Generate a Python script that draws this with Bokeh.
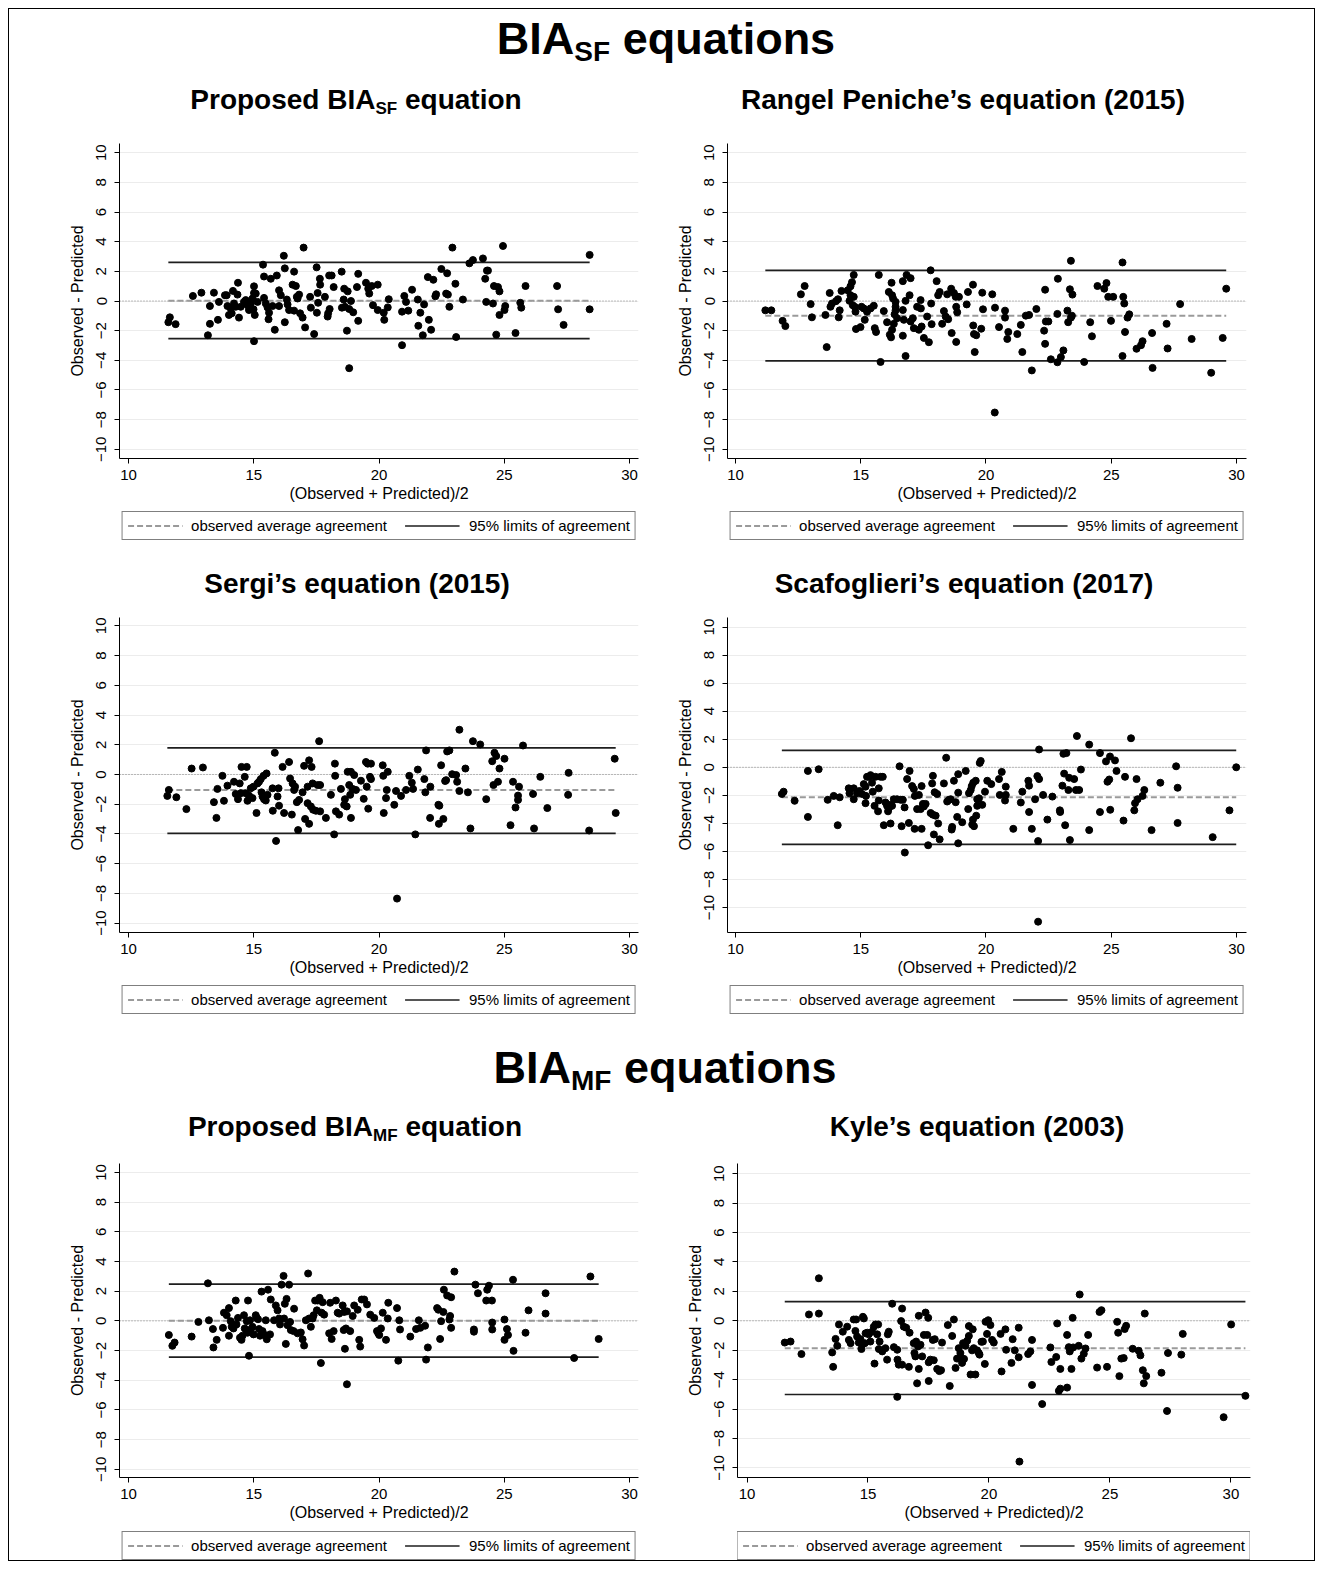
from bokeh.plotting import figure
from bokeh.models import Range1d, Span, Legend, LegendItem, Div, FixedTicker
from bokeh.layouts import column, row
from bokeh.core.properties import value
from bokeh.embed import file_html
from bokeh.resources import INLINE

FONT = "Liberation Sans"
FONT_CSS = "'Liberation Sans', Arial, Helvetica, sans-serif"

# ---------------- data ----------------
x_ticks = [10, 15, 20, 25, 30]
y_ticks = [-10, -8, -6, -4, -2, 0, 2, 4, 6, 8, 10]

# Proposed BIA_SF equation
p1_mean = [11.65,11.59,11.88,12.57,12.91,13.41,13.25,13.25,13.17,13.57,
           13.61,13.85,13.92,14.17,14.35,14.37,13.95,14.08,14.01,14.12,
           14.21,14.28,14.41,14.48,14.61,14.68,14.75,14.81,14.88,14.95,
           15.01,15.01,15.08,15.04,14.99,15.15,15.01,15.37,15.41,15.41,
           15.48,15.55,15.61,15.59,15.75,15.68,15.92,15.84,16.01,16.08,
           16.01,16.20,16.24,16.24,16.32,16.35,16.41,16.55,16.68,16.61,
           16.61,16.72,16.75,16.81,16.85,16.95,16.99,17.05,17.25,17.28,
           17.41,17.51,17.55,17.57,17.52,17.64,17.65,17.84,17.95,17.97,
           18.03,18.01,18.11,18.19,18.51,18.59,18.61,18.52,18.64,18.75,
           18.72,18.81,18.88,18.81,18.97,19.12,19.17,19.17,19.48,19.57,
           19.61,19.71,19.76,19.95,19.95,20.19,20.21,20.35,20.39,20.92,
           20.92,21.01,21.08,21.17,21.32,21.55,21.57,21.65,21.75,21.80,
           21.95,21.99,22.08,22.17,22.25,22.28,22.49,22.68,22.72,22.75,
           22.81,22.93,23.05,23.08,23.35,23.61,23.75,24.15,24.24,24.31,
           24.35,24.28,24.55,24.59,24.75,24.81,24.68,24.81,24.95,25.04,
           25.01,25.45,25.64,25.68,25.85,27.11,27.15,27.37,28.41,28.41]
p1_diff = [-1.10,-1.43,-1.56,0.34,0.56,0.56,-0.34,-1.54,-2.31,-1.27,
           -0.06,0.39,0.39,0.68,0.43,1.23,-0.34,-0.50,-0.94,-0.83,
           -0.17,-0.39,-1.12,-0.39,-0.06,0.06,-0.28,-0.61,-0.17,0.17,
           0.99,0.54,0.50,-0.94,-0.56,-0.06,-2.71,2.45,1.65,0.21,
           -0.17,-0.43,-0.79,-1.23,-0.34,1.50,1.72,-1.94,0.72,0.39,
           -0.34,3.05,2.20,-1.43,0.10,-0.23,-0.61,1.10,1.01,1.98,
           -0.65,0.28,0.17,0.43,-0.83,-1.12,3.60,-1.78,0.28,-0.45,
           -2.23,2.27,0.54,-0.12,-0.79,1.50,1.10,0.28,-1.05,-0.83,
           -0.54,1.72,1.72,0.94,1.98,0.10,0.83,-0.45,-0.39,0.65,
           -2.00,-0.54,0.00,-4.53,-0.76,0.94,-1.34,1.83,1.23,0.83,
           0.50,1.01,-0.28,-0.61,1.10,-0.79,-1.27,-0.43,0.12,-0.72,
           -2.98,0.34,-0.06,-0.65,0.76,0.10,-1.67,-0.79,-2.31,-0.23,
           1.61,-1.27,-1.94,1.43,0.32,0.45,2.16,0.50,1.87,0.43,
           -0.39,3.60,1.16,-2.43,0.10,2.54,2.76,2.87,1.50,2.05,
           2.05,-0.06,-0.17,1.01,0.94,0.65,-2.27,-0.94,3.71,-0.34,
           -0.61,-2.16,-0.12,-0.45,1.01,1.01,-0.56,-1.61,3.11,-0.56]
p1_bias, p1_lo, p1_hi = 0.01, -2.54, 2.60

# Rangel Peniche's equation (2015)
p2_mean = [11.19,11.43,11.88,11.99,12.61,12.76,13.00,13.05,13.59,13.64,
           13.76,13.79,13.85,14.01,14.09,14.16,14.12,14.23,14.48,14.55,
           14.59,14.65,14.72,14.59,14.68,14.72,14.76,14.79,14.81,14.99,
           15.03,15.12,15.16,15.25,15.39,15.52,15.56,15.61,15.72,15.79,
           15.92,16.05,16.12,16.16,16.23,16.21,16.25,16.25,16.29,16.32,
           16.35,16.39,16.39,16.39,16.45,16.68,16.68,16.68,16.72,16.79,
           16.83,16.79,16.95,16.99,16.99,17.08,17.12,17.25,17.32,17.39,
           17.40,17.43,17.52,17.65,17.72,17.79,17.81,17.83,18.03,18.09,
           18.15,18.25,18.32,18.39,18.49,18.45,18.61,18.63,18.72,18.79,
           18.81,18.85,18.81,18.92,19.23,19.28,19.48,19.49,19.52,19.55,
           19.61,19.81,19.85,19.88,20.25,20.36,20.52,20.76,20.76,20.85,
           20.89,21.25,21.39,21.45,21.59,21.72,21.83,22.01,22.36,22.32,
           22.39,22.36,22.49,22.59,22.87,22.85,22.85,22.99,23.09,23.25,
           23.28,23.35,23.39,23.45,23.39,23.43,23.92,24.16,24.23,24.45,
           24.72,24.81,24.88,24.99,25.08,25.45,25.48,25.52,25.55,25.45,
           25.65,25.72,26.01,26.19,26.25,26.63,26.65,27.21,27.25,27.75,
           28.21,28.99,29.45,29.59,20.35]
p2_diff = [-0.63,-0.63,-1.34,-1.69,0.45,1.01,-0.21,-1.10,-0.94,-3.11,
           0.54,-0.39,-0.17,-0.01,0.12,-0.63,-1.10,0.68,0.72,0.01,
           0.99,1.27,1.76,0.39,-0.28,0.28,-0.39,-0.72,-1.89,-1.76,
           -0.39,-0.50,-1.27,-0.72,-0.50,-0.32,-1.83,-2.09,1.76,-4.11,
           -0.68,-1.43,0.61,-2.27,1.23,-2.45,-1.94,0.39,0.17,-1.54,
           -0.90,-0.06,-0.39,-0.63,-1.16,-0.61,-2.34,1.34,-1.27,-3.71,
           1.76,0.01,0.39,1.54,-1.38,-1.16,-1.83,-0.39,-1.94,0.06,
           -0.50,-1.72,-2.49,-1.05,-2.78,2.07,-0.17,-1.56,1.34,0.39,
           0.61,-1.54,-0.68,-1.05,-1.23,0.45,0.83,-2.16,0.54,0.28,
           -0.39,-0.76,-2.76,0.28,-0.23,0.61,1.10,-1.65,-2.23,-3.44,
           -2.31,-1.87,0.56,-0.56,0.45,-0.45,-1.76,-0.65,-1.12,-2.56,
           -2.09,-2.23,-1.61,-3.44,-0.99,-0.94,-4.68,-0.54,0.76,-2.00,
           -1.38,-2.89,-1.38,-3.93,1.50,-0.87,-4.13,-3.78,-3.33,-0.65,
           -1.43,0.79,2.71,0.43,-1.12,-0.99,-4.11,-1.43,-2.38,1.01,
           0.83,1.21,0.28,-1.34,0.28,2.60,0.28,-0.17,-2.09,-3.71,
           -1.12,-0.90,-3.22,-2.98,-2.71,-2.16,-4.51,-1.54,-3.20,-0.21,
           -2.56,-4.84,-2.49,0.83,-7.52]
p2_bias, p2_lo, p2_hi = -0.99, -4.04, 2.07

# Sergi's equation (2015)
p3_mean = [11.61,11.55,11.91,12.31,12.52,12.97,13.41,13.51,13.55,13.75,
           13.81,13.95,14.21,14.28,14.37,14.44,14.48,14.51,14.64,14.68,
           14.72,14.75,14.81,14.88,14.95,14.99,15.11,15.15,15.21,15.28,
           15.31,15.35,15.39,15.41,15.48,15.51,15.55,15.75,15.76,15.84,
           15.89,15.95,15.99,16.01,16.15,16.21,16.41,16.45,16.52,16.55,
           16.61,16.65,16.72,16.77,16.81,16.95,17.01,17.05,17.15,17.15,
           17.21,17.21,17.28,17.31,17.35,17.37,17.48,17.55,17.61,17.65,
           17.65,17.88,18.08,18.21,18.24,18.25,18.28,18.41,18.48,18.61,
           18.64,18.71,18.75,18.81,18.85,18.88,18.88,18.95,19.01,19.08,
           19.28,19.39,19.48,19.51,19.55,19.57,19.64,19.68,19.68,20.15,
           20.17,20.19,20.28,20.31,20.35,20.61,20.68,20.72,20.88,21.08,
           21.21,21.31,21.36,21.45,21.55,21.81,21.85,21.88,22.04,22.05,
           22.37,22.41,22.39,22.48,22.57,22.64,22.68,22.72,22.81,22.92,
           23.08,23.12,23.21,23.21,23.45,23.55,23.65,23.75,24.04,24.28,
           24.52,24.57,24.61,24.68,24.75,24.81,25.01,25.25,25.35,25.45,
           25.55,25.55,25.59,25.75,26.15,26.19,26.44,26.72,27.55,27.57,
           28.39,29.41,29.45]
p3_diff = [-1.04,-1.44,-1.53,-2.33,0.40,0.47,-1.86,-2.92,-0.97,-0.09,
           -1.77,-0.75,-0.49,-1.31,-1.66,-0.60,-1.26,0.51,-0.16,-1.26,
           0.51,-1.77,-1.42,-0.93,-1.59,-0.82,-2.59,-0.60,-0.49,-0.31,
           -1.20,-1.48,-0.09,-1.66,-1.75,0.07,-1.37,-0.93,-2.44,1.46,
           -4.47,-1.48,-0.93,-2.10,0.51,-2.59,0.84,-0.27,-2.70,-0.60,
           -1.04,-0.82,-1.86,-3.74,-1.71,-1.20,0.58,-2.99,-0.82,-1.93,
           0.95,-3.32,-2.15,0.51,-0.60,-2.37,-2.44,-0.71,2.24,-2.48,
           -0.71,-2.92,-1.37,-4.03,0.73,-0.09,-2.48,-2.70,-0.97,-2.04,
           -1.66,-2.15,0.18,-0.71,-1.37,-2.92,0.18,-0.97,-0.04,-1.04,
           -0.42,-1.64,0.84,-0.82,0.73,-2.30,-0.16,0.73,-0.31,0.62,
           -0.09,-2.59,-1.59,-1.04,0.18,-2.04,-1.11,-8.35,-1.44,-1.04,
           -0.09,-0.55,-0.97,-4.03,0.33,-0.31,-1.20,1.62,-2.92,-0.82,
           -2.04,-2.10,-3.32,0.62,-2.99,-0.44,-0.38,1.55,1.62,0.02,
           -0.04,-0.49,-1.11,3.01,0.40,-1.20,-3.63,2.24,2.02,-1.66,
           0.89,-0.71,1.46,1.24,-0.49,0.40,1.06,-3.41,-0.49,-2.22,
           -1.42,-1.71,-0.82,1.95,-1.31,-3.63,-0.16,-2.26,-1.37,0.11,
           -3.77,1.06,-2.59]
p3_bias, p3_lo, p3_hi = -1.04, -3.96, 1.79

# Scafoglieri's equation (2017)
p4_mean = [11.85,11.92,12.36,12.89,12.89,13.32,13.68,13.92,14.08,14.16,
           14.52,14.55,14.72,14.72,14.85,14.95,15.05,15.12,15.19,15.19,
           15.21,15.25,15.32,15.39,15.45,15.48,15.55,15.59,15.69,15.72,
           15.72,15.79,15.88,15.92,15.99,16.05,16.09,16.12,16.19,16.19,
           16.25,16.32,16.45,16.55,16.59,16.63,16.68,16.75,16.76,16.85,
           16.92,16.95,17.05,17.12,17.15,17.16,17.25,17.32,17.39,17.43,
           17.43,17.48,17.52,17.59,17.69,17.79,17.85,17.88,17.88,17.92,
           17.95,17.99,18.05,18.09,18.15,18.32,18.41,18.45,18.52,18.59,
           18.63,18.65,18.72,18.79,18.85,18.89,18.89,18.89,19.05,19.19,
           19.29,19.32,19.39,19.43,19.45,19.48,19.49,19.52,19.59,19.61,
           19.65,19.65,19.72,19.75,19.79,19.85,19.96,20.05,20.21,20.52,
           20.55,20.63,20.76,20.79,20.79,21.09,21.39,21.45,21.69,21.72,
           21.72,21.83,21.96,22.05,22.08,22.12,22.12,22.28,22.45,22.65,
           22.95,22.96,23.05,23.09,23.12,23.16,23.21,23.29,23.32,23.35,
           23.52,23.59,23.72,23.63,23.79,24.12,24.12,24.55,24.55,24.79,
           24.85,24.92,24.95,24.96,25.15,25.21,25.49,25.55,25.79,25.92,
           25.95,26.01,26.05,26.25,26.32,26.61,26.96,27.59,27.65,27.65,
           29.05,29.72,29.99,22.08]
p4_diff = [-1.90,-1.74,-2.39,-0.26,-3.54,-0.14,-2.32,-2.04,-4.13,-2.14,
           -1.50,-1.85,-1.50,-2.28,-1.85,-1.69,-1.90,-1.20,-1.38,-2.56,
           -2.04,-0.68,-0.68,-0.56,-1.10,-1.74,-2.75,-0.68,-3.14,-1.50,
           -2.37,-0.68,-0.68,-4.13,-2.51,-2.75,-3.14,-2.91,-2.68,-4.01,
           -2.75,-2.28,-2.28,0.07,-2.32,-4.20,-2.32,-2.86,-6.08,-0.84,
           -3.97,-0.26,-1.34,-1.55,-4.39,-2.04,-2.98,-1.97,-2.98,-1.34,
           -4.39,-2.61,-2.79,-2.61,-5.56,-3.26,-1.15,-0.61,-3.38,-4.79,
           -1.78,-3.45,-1.90,-4.01,-5.14,-1.15,0.68,-2.44,-2.32,-2.28,
           -4.44,-4.25,-0.96,-2.49,-3.54,-0.49,-1.81,-5.42,-3.92,-0.26,
           -2.98,-1.85,-1.62,-1.34,-4.08,-3.73,-1.10,-4.20,-0.96,-3.45,
           -2.28,-2.75,-2.21,0.31,0.45,-2.68,-1.74,-0.96,-1.20,-0.84,
           -1.97,-0.33,-2.37,-1.38,-1.97,-4.39,-2.51,-1.74,-0.96,-1.31,
           -3.19,-4.39,-2.28,-0.63,-5.26,1.27,-0.84,-1.97,-3.73,-2.09,
           -3.07,-3.19,-1.31,0.96,-0.45,-4.13,1.01,-1.62,-0.75,-5.19,
           -0.84,-1.62,-1.62,2.23,-0.16,1.62,-4.48,1.01,-3.19,0.42,
           -1.03,-0.87,0.77,-3.03,0.49,-0.26,-3.80,-0.68,2.07,-3.07,
           -2.56,-0.84,-2.28,-2.04,-1.62,-4.48,-1.10,0.07,-1.46,-3.97,
           -4.98,-3.07,0.00,-11.01]
p4_bias, p4_lo, p4_hi = -2.14, -5.49, 1.20

# Proposed BIA_MF equation
p5_mean = [11.61,11.75,11.84,12.52,12.79,13.17,13.21,13.37,13.39,13.52,
           13.77,13.81,13.92,14.01,14.01,14.08,14.12,14.19,14.28,14.31,
           14.37,14.45,14.51,14.55,14.61,14.64,14.72,14.75,14.77,14.81,
           14.85,14.88,14.95,14.99,15.08,15.12,15.17,15.21,15.25,15.31,
           15.35,15.44,15.48,15.52,15.57,15.65,15.68,15.81,15.88,15.95,
           16.01,16.05,16.11,16.19,16.21,16.24,16.28,16.31,16.35,16.41,
           16.45,16.48,16.59,16.61,16.75,16.88,16.95,17.01,17.08,17.17,
           17.21,17.28,17.35,17.39,17.45,17.52,17.55,17.63,17.68,17.71,
           17.75,17.81,18.01,18.05,18.11,18.19,18.28,18.35,18.41,18.55,
           18.59,18.61,18.64,18.68,18.72,18.72,18.85,18.95,19.01,19.15,
           19.21,19.25,19.31,19.41,19.52,19.65,19.81,19.92,19.97,20.01,
           20.08,20.15,20.28,20.35,20.37,20.72,20.77,20.81,20.84,21.25,
           21.48,21.59,21.65,21.84,21.88,21.95,22.32,22.37,22.44,22.48,
           22.57,22.59,22.72,22.81,22.84,22.88,22.88,23.01,23.79,23.79,
           23.85,23.95,24.28,24.32,24.39,24.51,24.52,24.52,25.01,25.11,
           25.15,25.01,25.35,25.37,25.85,25.97,26.65,26.65,27.79,28.44,
           28.77]
p5_diff = [-0.95,-1.68,-1.46,-1.06,-0.07,2.53,0.04,-0.55,-1.79,-1.28,
           -0.47,0.55,0.38,0.86,-1.00,-0.02,-0.40,-0.51,1.37,-0.24,
           0.20,-1.13,-1.28,-1.00,0.38,-0.51,-0.02,-0.80,1.37,-2.35,
           0.04,-0.58,-0.40,-0.91,0.38,0.20,0.11,-0.55,-1.00,1.97,
           -0.69,-0.95,0.04,-1.24,2.10,-0.91,1.44,0.04,1.04,0.71,
           0.16,-0.24,2.44,3.03,0.16,1.15,-1.55,1.48,-0.29,2.44,
           -0.07,-0.62,-0.69,0.82,-0.84,-0.78,-1.24,-1.66,0.04,3.19,
           0.16,-0.40,0.16,0.38,1.37,0.71,1.37,1.55,-2.84,0.55,
           1.26,0.42,-0.84,1.22,-1.22,-0.69,1.37,0.55,0.49,1.04,
           -0.62,0.60,-1.88,-0.51,-4.27,0.64,-0.69,0.33,1.04,0.75,
           -1.28,-1.73,1.44,1.44,1.11,0.42,0.20,-0.69,-0.84,-0.95,
           -0.51,0.55,-1.28,0.16,1.22,0.86,-2.68,0.04,-0.58,-1.06,
           -0.55,0.04,-0.47,-0.33,-2.61,-1.79,0.86,0.75,-1.22,-0.02,
           0.60,2.10,1.71,0.09,0.33,1.59,-0.47,3.32,-0.58,-0.73,
           2.44,1.86,1.37,2.10,2.37,1.37,-0.11,-0.58,0.09,-0.55,
           -0.95,-1.28,2.77,-2.02,-0.80,0.71,1.86,0.49,-2.50,2.99,
           -1.22]
p5_bias, p5_lo, p5_hi = 0.0, -2.44, 2.48

# Kyle's equation (2003)
p6_mean = [11.56,11.80,12.25,12.56,12.97,12.97,13.52,13.56,13.66,13.73,
           13.80,13.96,14.14,14.21,14.28,14.41,14.48,14.51,14.55,14.62,
           14.69,14.73,14.76,14.79,14.83,14.87,14.90,14.97,15.03,15.10,
           15.17,15.24,15.27,15.31,15.38,15.42,15.48,15.45,15.59,15.72,
           15.79,15.82,15.86,16.00,16.07,16.21,16.21,16.22,16.27,16.37,
           16.41,16.41,16.48,16.58,16.69,16.72,16.89,16.92,16.96,16.99,
           17.03,17.07,17.10,17.17,17.10,17.24,17.31,17.38,17.45,17.49,
           17.51,17.51,17.58,17.68,17.72,17.76,17.86,17.95,18.02,18.06,
           18.30,18.38,18.48,18.55,18.62,18.68,18.75,18.79,18.82,18.89,
           18.93,18.97,19.03,19.10,19.17,19.17,19.24,19.30,19.33,19.37,
           19.44,19.51,19.58,19.61,19.69,19.75,19.83,19.86,19.92,19.97,
           20.06,20.13,20.20,20.48,20.52,20.68,20.71,20.93,20.98,21.07,
           21.23,21.23,21.26,21.62,21.71,21.78,21.78,22.20,22.54,22.58,
           22.78,22.82,22.89,22.95,22.95,23.23,23.23,23.30,23.41,23.46,
           23.34,23.48,23.71,23.75,23.82,23.92,23.99,24.10,24.47,24.57,
           24.65,24.88,25.30,25.34,25.39,25.47,25.57,25.61,25.67,25.94,
           26.19,26.26,26.36,26.44,26.40,26.50,27.13,27.36,27.40,27.95,
           28.01,29.70,30.01,30.60]
p6_diff = [-1.48,-1.41,-2.26,0.43,2.89,0.49,-2.15,-3.13,-1.23,-1.70,
           -0.25,-0.74,-0.40,-1.30,-1.52,0.09,-0.69,0.09,-1.07,-1.48,
           -1.25,-1.92,-1.63,0.27,0.16,-1.52,-0.85,-0.81,-0.92,-1.41,
           -0.74,-0.40,-2.91,-0.25,-0.92,-0.25,-1.41,-1.92,-2.08,-1.86,
           -2.64,-0.92,-0.74,1.16,-1.79,-1.97,-5.17,-2.64,-2.98,-0.02,
           0.83,-2.98,-0.40,-0.47,-3.13,-0.81,-1.52,-2.19,-2.42,-1.41,
           -4.25,-1.74,0.34,-1.63,-3.27,-2.42,-0.96,0.56,-0.96,0.20,
           -4.09,-2.82,-2.64,-1.30,-2.68,-1.25,-3.27,-3.42,-3.36,-1.48,
           -0.29,-4.43,-1.03,0.09,-3.20,-2.57,-1.86,-2.53,-2.19,-2.86,
           -1.52,-2.59,-1.70,-1.36,-0.36,-1.03,-3.65,-2.01,-0.58,-1.86,
           -3.65,-2.01,-2.19,-2.30,-1.43,-1.41,-2.93,-0.07,-0.89,0.04,
           -0.29,-1.30,-1.48,-0.89,-3.44,-0.58,-1.97,-2.86,-1.25,-2.01,
           -0.47,-2.48,-9.57,-2.26,-2.08,-1.30,-4.36,-5.66,-1.81,-2.80,
           -2.46,-0.18,-4.76,-3.27,-4.61,-4.54,-0.96,-1.79,-3.27,0.20,
           -2.08,-1.81,-1.70,1.79,-2.57,-2.24,-1.88,-0.96,-3.18,0.60,
           0.72,-3.13,-0.07,-0.81,-3.76,-2.57,-2.53,-0.56,-0.34,-1.90,
           -2.04,-2.35,-3.36,0.49,-4.25,-3.76,-3.53,-6.13,-2.19,-2.30,
           -0.89,-6.55,-0.25,-5.10]
p6_bias, p6_lo, p6_hi = -1.86, -5.01, 1.30

x_label = "(Observed + Predicted)/2"
y_label = "Observed - Predicted"
legend_labels = ["observed average agreement", "95% limits of agreement"]

# ---------------- styles ----------------
MEAN_STYLE = dict(line_color="#9a9a9a", line_dash="6 3", line_width=2)
LOA_STYLE = dict(line_color="#1e1e1e", line_width=1.7)
NAN = float("nan")


def panel(xs, ys, bias, lo, hi, width, height, xr, yr, bl, br, bt, bb):
    p = figure(width=width, height=height, output_backend="svg", toolbar_location=None,
               x_range=Range1d(*xr), y_range=Range1d(*yr),
               min_border_left=bl, min_border_right=br, min_border_top=bt, min_border_bottom=bb)
    p.outline_line_color = None
    p.xgrid.visible = False
    p.ygrid.grid_line_color = "#ececec"
    p.ygrid.grid_line_width = 1
    p.xaxis.ticker = FixedTicker(ticks=x_ticks)
    p.yaxis.ticker = FixedTicker(ticks=y_ticks)
    for ax in (p.xaxis, p.yaxis):
        ax.axis_line_color = "black"
        ax.major_tick_line_color = "black"
        ax.minor_tick_line_color = None
        ax.major_tick_in = 0
        ax.major_tick_out = 5
        ax.major_label_text_font = FONT
        ax.major_label_text_font_size = "15px"
        ax.major_label_text_color = "black"
        ax.axis_label_text_font = FONT
        ax.axis_label_text_font_size = "16px"
        ax.axis_label_text_font_style = "normal"
        ax.axis_label_text_color = "black"
    p.xaxis.axis_label = x_label
    p.yaxis.axis_label = y_label
    p.xaxis.major_label_standoff = 6
    p.xaxis.axis_label_standoff = 2
    p.yaxis.major_label_standoff = 8
    p.yaxis.axis_label_standoff = 8
    p.yaxis.major_label_orientation = "vertical"

    p.add_layout(Span(location=0, dimension="width", line_color="#808080",
                      line_dash="1 2", line_width=1, level="underlay"))
    x0, x1 = min(xs), max(xs)
    p.line([x0, x1], [bias, bias], **MEAN_STYLE)
    p.line([x0, x1], [hi, hi], **LOA_STYLE)
    p.line([x0, x1], [lo, lo], **LOA_STYLE)
    p.scatter(xs, ys, size=7, fill_color="black", line_color="black")
    return p


def legend_fig(width, height, bl, br, top_margin):
    q = figure(width=width, height=height, output_backend="svg", toolbar_location=None,
               x_range=Range1d(0, 1), y_range=Range1d(0, 1),
               x_axis_location=None, y_axis_location=None,
               min_border_left=bl, min_border_right=br, min_border_top=0, min_border_bottom=0)
    q.outline_line_color = None
    q.grid.visible = False
    # legend-only renderers (no visible data)
    r_mean = q.line([NAN, NAN], [NAN, NAN], **MEAN_STYLE)
    r_loa = q.line([NAN, NAN], [NAN, NAN], **LOA_STYLE)
    lg = Legend(items=[LegendItem(label=value(legend_labels[0]), renderers=[r_mean]),
                       LegendItem(label=value(legend_labels[1]), renderers=[r_loa])],
                orientation="horizontal", location="top_center")
    lg.label_text_font = FONT
    lg.label_text_font_size = "15px"
    lg.label_text_color = "black"
    lg.border_line_color = "black"
    lg.border_line_width = 1
    lg.padding = 5
    lg.spacing = 18
    lg.label_standoff = 9
    lg.glyph_width = 55
    lg.glyph_height = 17
    lg.label_height = 17
    lg.margin = top_margin
    q.add_layout(lg)
    return q


def block(plot, lf):
    return column(plot, lf, spacing=0)

# row 1
f1 = panel(p1_mean, p1_diff, p1_bias, p1_lo, p1_hi, 659, 376, (9.64, 30.36), (-10.62, 10.62), 110, 30, 15, 42)
f2 = panel(p2_mean, p2_diff, p2_bias, p2_lo, p2_hi, 646, 376, (9.68, 30.40), (-10.62, 10.62), 59, 68, 15, 42)
l1 = legend_fig(659, 41, 110, 30, 7)
l2 = legend_fig(646, 41, 59, 68, 7)
# row 2
f3 = panel(p3_mean, p3_diff, p3_bias, p3_lo, p3_hi, 659, 368, (9.64, 30.36), (-10.63, 10.56), 110, 30, 7, 42)
f4 = panel(p4_mean, p4_diff, p4_bias, p4_lo, p4_hi, 646, 368, (9.68, 30.40), (-11.78, 10.68), 59, 68, 7, 42)
l3 = legend_fig(659, 42, 110, 30, 7)
l4 = legend_fig(646, 42, 59, 68, 7)
# row 3
f5 = panel(p5_mean, p5_diff, p5_bias, p5_lo, p5_hi, 659, 373, (9.64, 30.36), (-10.55, 10.6), 110, 30, 13, 42)
f6 = panel(p6_mean, p6_diff, p6_bias, p6_lo, p6_hi, 646, 373, (9.607, 30.81), (-10.65, 10.69), 69, 64, 13, 42)
l5 = legend_fig(659, 37, 110, 30, 8)
l6 = legend_fig(646, 37, 69, 64, 8)

# ---------------- text strips ----------------
def txt(html, cx, top, fs, box_w=600):
    left = cx - box_w / 2
    return ('<div style="position:absolute;left:%.1fpx;top:%.1fpx;width:%dpx;text-align:center;'
            'font-family:%s;font-weight:bold;font-size:%dpx;line-height:%dpx;white-space:nowrap;color:#000">%s</div>'
            % (left, top, box_w, FONT_CSS, fs, fs, html))

def strip(parts, height):
    html = '<div style="position:relative;width:1305px;height:%dpx">%s</div>' % (height, "".join(parts))
    return Div(text=html, width=1305, height=height, margin=0)

def sub(s, fs, dy):
    return '<span style="font-size:%dpx;position:relative;top:%dpx">%s</span>' % (fs, dy, s)

h1 = strip([txt("BIA" + sub("SF", 28, 7) + " equations", 657, 7.0, 45, 1000)], 63)
t1 = strip([txt("Proposed BIA" + sub("SF", 17, 5) + " equation", 347, 14.3, 28),
            txt("Rangel Peniche\u2019s equation (2015)", 954, 14.3, 28)], 56)
t2 = strip([txt("Sergi\u2019s equation (2015)", 348, 24.8, 28),
            txt("Scafoglieri\u2019s equation (2017)", 955, 24.8, 28)], 65)
h2 = strip([txt("BIA" + sub("MF", 28, 7) + " equations", 656, 24.5, 45, 1000)], 80)
t3 = strip([txt("Proposed BIA" + sub("MF", 17, 5) + " equation", 346, 13.3, 28),
            txt("Kyle\u2019s equation (2003)", 968, 13.3, 28)], 50)

layout = column(h1, t1, row(block(f1, l1), block(f2, l2)),
                t2, row(block(f3, l3), block(f4, l4)),
                h2, t3, row(block(f5, l5), block(f6, l6)),
                margin=(9, 9, 9, 9),
                styles={"outline": "1px solid #000"})

open("out.html", "w").write(file_html(layout, INLINE, title="BIA equations"))
